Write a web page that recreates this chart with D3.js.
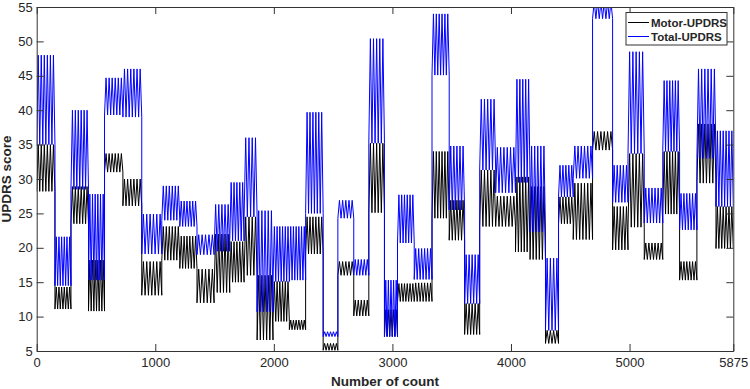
<!DOCTYPE html>
<html>
<head>
<meta charset="utf-8">
<script src="https://cdn.jsdelivr.net/npm/d3@7"></script>
<style>
  body { margin: 0; background: #fff; }
  text { font-family: Arial, "Liberation Sans", sans-serif; }
</style>
</head>
<body>
<div id="chart"></div>
<script>
// record index where each subject's block ends (42 subjects)
const subjectEnd = [154, 289, 437, 572, 727, 886, 1055, 1207, 1352, 1496, 1628, 1749, 1859, 1993,
  2131, 2268, 2416, 2540, 2674, 2801, 2933, 3043, 3184, 3334, 3479, 3609, 3736, 3871, 4038, 4161,
  4291, 4401, 4525, 4688, 4857, 4987, 5124, 5280, 5422, 5568, 5729, 5875]

// low / high swing of each subject's scores
const motorLow = [28.2, 11.1, 23.5, 10.8, 31.0, 26.1, 13.1, 18.2, 17.0, 12.0, 13.5, 15.0, 16.0, 6.6,
  9.3, 8.1, 19.1, 5.1, 16.0, 10.1, 25.1, 7.1, 12.2, 12.2, 24.3, 21.1, 7.4, 23.1, 23.1, 19.4,
  18.3, 6.1, 23.5, 21.2, 34.2, 19.7, 23.0, 18.3, 24.9, 15.3, 29.4, 19.9]
const motorHigh = [35.0, 14.3, 28.9, 18.2, 33.7, 30.0, 18.0, 23.1, 21.7, 16.9, 22.0, 20.9, 24.5, 16.0,
  15.1, 9.5, 24.5, 6.1, 18.0, 12.4, 35.2, 11.0, 14.8, 14.9, 34.0, 26.9, 11.9, 31.3, 27.5, 30.3,
  28.9, 8.0, 27.4, 29.4, 36.9, 26.0, 33.7, 20.7, 34.0, 18.0, 38.0, 26.0]
const totalLow = [35.0, 14.5, 28.5, 15.3, 39.3, 39.0, 19.1, 24.0, 23.1, 19.0, 19.5, 21.0, 24.5, 10.7,
  15.1, 15.3, 25.0, 7.1, 24.3, 16.0, 35.2, 7.1, 20.7, 15.4, 45.1, 25.5, 11.9, 31.3, 28.0, 29.5,
  22.3, 8.0, 27.4, 30.1, 53.3, 26.6, 33.7, 23.6, 34.0, 22.6, 33.0, 26.0]
const totalHigh = [48.0, 21.6, 40.0, 27.8, 44.7, 46.0, 24.9, 29.0, 26.8, 21.9, 26.3, 29.5, 36.0, 25.4,
  23.1, 23.1, 39.7, 7.8, 26.9, 18.3, 50.4, 15.3, 27.7, 19.9, 54.0, 34.8, 19.0, 41.6, 34.6, 44.5,
  34.8, 18.5, 32.0, 34.8, 55.8, 32.0, 48.5, 28.7, 44.3, 27.9, 46.0, 37.0]
// number of up/down swings visible inside each subject block
const swings = [6, 6, 6, 6, 6, 6, 6, 6, 6, 5, 5, 5, 4, 5, 6, 6, 6, 5, 5, 5, 5, 5, 6, 6, 6, 5,
  5, 5, 6, 5, 5, 4, 5, 6, 6, 5, 5, 6, 6, 6, 6, 6]

const xTicks = [0, 1000, 2000, 3000, 4000, 5000, 5875]
const yTicks = [5, 10, 15, 20, 25, 30, 35, 40, 45, 50, 55]
const seriesNames = ['Motor-UPDRS', 'Total-UPDRS']

const width = 750, height = 389
const plotLeft = 36.7, plotRight = 733.3, plotTop = 7, plotBottom = 351
const axisColor = '#333'
const tickLen = 7

const svg = d3.select('#chart').append('svg')
  .attr('width', width)
  .attr('height', height)

const xScale = d3.scaleLinear().domain([0, 5875]).range([plotLeft, plotRight])
const yScale = d3.scaleLinear().domain([5, 55]).range([plotBottom, plotTop])

// build each series as a run of swings per subject block
function buildSeries (lo, hi) {
  const pts = []
  subjectEnd.forEach((end, i) => {
    const start = i === 0 ? 0 : subjectEnd[i - 1]
    const n = swings[i] * 2
    for (let k = 0; k <= n; k++) {
      pts.push({ idx: start + (end - start) * k / n, val: k % 2 === 0 ? lo[i] : hi[i] })
    }
  })
  return pts
}

const motor = buildSeries(motorLow, motorHigh)
const total = buildSeries(totalLow, totalHigh)

svg.append('clipPath').attr('id', 'plotClip')
  .append('rect')
  .attr('x', plotLeft).attr('y', plotTop)
  .attr('width', plotRight - plotLeft).attr('height', plotBottom - plotTop)

const line = d3.line()
  .x(d => xScale(d.idx))
  .y(d => yScale(d.val))

const lines = svg.append('g').attr('clip-path', 'url(#plotClip)')
lines.append('path')
  .attr('d', line(motor))
  .attr('fill', 'none')
  .attr('stroke', '#000')
  .attr('stroke-width', 1)
lines.append('path')
  .attr('d', line(total))
  .attr('fill', 'none')
  .attr('stroke', '#0000ff')
  .attr('stroke-width', 1)

// axes (MATLAB style box with inward ticks on all sides)
const xAxis = d3.axisBottom(xScale).tickValues(xTicks).tickFormat(d3.format('d'))
  .tickSizeInner(-tickLen).tickSizeOuter(0).tickPadding(7)
const yAxis = d3.axisLeft(yScale).tickValues(yTicks)
  .tickSizeInner(-tickLen).tickSizeOuter(0).tickPadding(4)

const gx = svg.append('g').attr('transform', `translate(0, ${plotBottom})`).call(xAxis)
const gy = svg.append('g').attr('transform', `translate(${plotLeft}, 0)`).call(yAxis)
const gxTop = svg.append('g').attr('transform', `translate(0, ${plotTop})`)
  .call(d3.axisTop(xScale).tickValues(xTicks).tickSizeInner(-tickLen).tickSizeOuter(0).tickFormat(''))
const gyRight = svg.append('g').attr('transform', `translate(${plotRight}, 0)`)
  .call(d3.axisRight(yScale).tickValues(yTicks).tickSizeInner(-tickLen).tickSizeOuter(0).tickFormat(''))

;[gx, gy, gxTop, gyRight].forEach(g => {
  g.select('.domain').attr('stroke', axisColor)
  g.selectAll('.tick line').attr('stroke', axisColor)
  g.selectAll('.tick text').attr('fill', '#262626').style('font-size', '13px')
})

svg.append('text')
  .attr('x', (plotLeft + plotRight) / 2)
  .attr('y', 386)
  .attr('text-anchor', 'middle')
  .style('font-size', '13.5px')
  .style('font-weight', 'bold')
  .attr('fill', '#262626')
  .text('Number of count')

svg.append('text')
  .attr('transform', `translate(11, ${(plotTop + plotBottom) / 2}) rotate(-90)`)
  .attr('text-anchor', 'middle')
  .style('font-size', '13.5px')
  .style('font-weight', 'bold')
  .attr('fill', '#262626')
  .text('UPDRS score')

// legend
const legend = svg.append('g')
legend.append('rect')
  .attr('x', 626).attr('y', 12.5)
  .attr('width', 101).attr('height', 32.5)
  .attr('fill', '#fff')
  .attr('stroke', axisColor)
const legendColors = ['#000', '#0000ff']
seriesNames.forEach((name, i) => {
  const y = 22.5 + i * 14
  legend.append('line')
    .attr('x1', 628).attr('x2', 649)
    .attr('y1', y).attr('y2', y)
    .attr('stroke', legendColors[i])
  legend.append('text')
    .attr('x', 651).attr('y', y)
    .attr('dy', '0.35em')
    .style('font-size', '11.5px')
    .style('font-weight', 'bold')
    .attr('fill', '#262626')
    .text(name)
})
</script>
</body>
</html>
